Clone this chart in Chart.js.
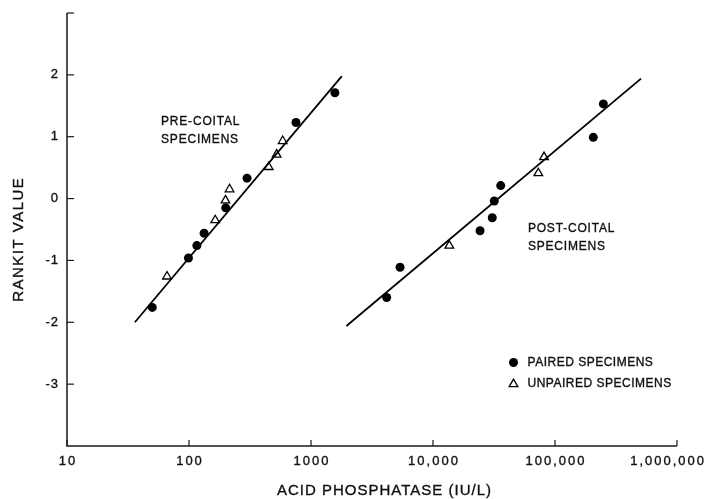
<!DOCTYPE html>
<html>
<head>
<meta charset="utf-8">
<script src="https://cdn.jsdelivr.net/npm/chart.js@4/dist/chart.umd.min.js"></script>
<style>
  html, body { margin: 0; padding: 0; background: #fff; }
  #wrap { position: relative; width: 708px; height: 499px; }
</style>
</head>
<body>
<div id="wrap"><canvas id="chart"></canvas></div>
<script>
// tick values and labels
const xTicks = [10, 100, 1000, 10000, 100000, 1000000];
const xTickLabels = ["10", "100", "1000", "10,000", "100,000", "1,000,000"];
const yTicks = [3, 2, 1, 0, -1, -2, -3];
const yTickLabels = ["", "2", "1", "0", "-1", "-2", "-3"];

// pre-coital specimens
const prePairedX = [50, 99, 116, 133, 200, 299, 753, 1570];
const prePairedY = [-1.76, -0.96, -0.76, -0.56, -0.15, 0.33, 1.23, 1.71];
const preUnpairedX = [66, 164, 199, 215, 450, 523, 586];
const preUnpairedY = [-1.26, -0.35, -0.03, 0.15, 0.51, 0.71, 0.93];

// post-coital specimens
const postPairedX = [4170, 5370, 24300, 30600, 31800, 35900, 206000, 249000];
const postPairedY = [-1.60, -1.11, -0.52, -0.31, -0.04, 0.21, 0.99, 1.53];
const postUnpairedX = [13600, 73000, 81300];
const postUnpairedY = [-0.76, 0.41, 0.67];

// fitted lines (end points)
const preFitX = [36, 1790];
const preFitY = [-2.0, 1.98];
const postFitX = [1950, 507000];
const postFitY = [-2.06, 1.94];

const zip = (xs, ys) => xs.map((x, i) => ({ x: x, y: ys[i] }));

const FONT = '"Liberation Sans", Arial, sans-serif';
const INK = "#111";

function txt(ctx, s, x, y, size, align, spacing) {
  ctx.save();
  ctx.font = size + "px " + FONT;
  ctx.fillStyle = INK;
  ctx.strokeStyle = INK;
  ctx.lineWidth = 0.35;
  ctx.textBaseline = "middle";
  ctx.letterSpacing = spacing + "px";
  ctx.textAlign = "left";
  const w = ctx.measureText(s).width - spacing;
  let x0 = x;
  if (align === "center") x0 = x - w / 2;
  if (align === "right") x0 = x - w;
  // keep labels inside the canvas
  const maxX = ctx.canvas.width - 4;
  if (x0 + w > maxX) x0 = maxX - w;
  ctx.fillText(s, x0, y);
  ctx.strokeText(s, x0, y);
  ctx.restore();
}

const axesPlugin = {
  id: "axesPlugin",
  afterDraw(chart) {
    const ctx = chart.ctx;
    const xs = chart.scales.x, ys = chart.scales.y;
    const a = chart.chartArea;
    ctx.save();
    ctx.strokeStyle = "#1a1a1a";
    ctx.lineWidth = 1.5;
    ctx.beginPath();
    ctx.moveTo(a.left, a.top);
    ctx.lineTo(a.left, a.bottom);
    ctx.lineTo(a.right, a.bottom);
    ctx.stroke();

    // inward ticks
    ctx.lineWidth = 1.2;
    yTicks.forEach((v, i) => {
      const py = ys.getPixelForValue(v);
      ctx.beginPath();
      ctx.moveTo(a.left, py);
      ctx.lineTo(a.left + 7, py);
      ctx.stroke();
      txt(ctx, yTickLabels[i], a.left - 9, py, 13, "right", 1);
    });
    xTicks.forEach((v, i) => {
      const px = xs.getPixelForValue(v);
      ctx.beginPath();
      ctx.moveTo(px, a.bottom);
      ctx.lineTo(px, a.bottom - 6);
      ctx.stroke();
      txt(ctx, xTickLabels[i], px, a.bottom + 15, 13, "center", 2);
    });
    ctx.restore();

    // axis titles
    txt(ctx, "ACID PHOSPHATASE (IU/L)", (a.left + a.right) / 2 + 12, 491, 15, "center", 1);
    ctx.save();
    ctx.translate(19, 240);
    ctx.rotate(-Math.PI / 2);
    txt(ctx, "RANKIT VALUE", 0, 0, 15, "center", 1.5);
    ctx.restore();

    // group labels, anchored in data space
    const preX = xs.getPixelForValue(59), postX = xs.getPixelForValue(60000);
    txt(ctx, "PRE-COITAL", preX, ys.getPixelForValue(1.25), 12, "left", 0.8);
    txt(ctx, "SPECIMENS", preX, ys.getPixelForValue(0.96), 12, "left", 0.8);
    txt(ctx, "POST-COITAL", postX, ys.getPixelForValue(-0.49), 12, "left", 0.8);
    txt(ctx, "SPECIMENS", postX, ys.getPixelForValue(-0.78), 12, "left", 0.8);

    // legend
    const lx = a.left + (a.right - a.left) * 0.732;
    const ly1 = ys.getPixelForValue(-2.65), ly2 = ys.getPixelForValue(-3.0);
    ctx.save();
    ctx.fillStyle = "#000";
    ctx.strokeStyle = "#000";
    ctx.lineWidth = 1.3;
    Chart.helpers.drawPoint(ctx, { pointStyle: "circle", radius: 4.5, borderWidth: 0 }, lx, ly1);
    ctx.fillStyle = "#fff";
    Chart.helpers.drawPoint(ctx, { pointStyle: "triangle", radius: 5, borderWidth: 1.3 }, lx, ly2);
    ctx.restore();
    txt(ctx, "PAIRED SPECIMENS", lx + 14, ly1, 12, "left", 0.5);
    txt(ctx, "UNPAIRED SPECIMENS", lx + 14, ly2, 12, "left", 0.5);
  }
};

const circle = { pointStyle: "circle", pointRadius: 4.5, backgroundColor: "#000", borderColor: "#000", borderWidth: 0, showLine: false };
const tri = { pointStyle: "triangle", pointRadius: 5, backgroundColor: "#fff", borderColor: "#000", borderWidth: 1.3, showLine: false };
const fit = { showLine: true, pointRadius: 0, borderColor: "#000", borderWidth: 1.8, fill: false };

new Chart(document.getElementById("chart").getContext("2d"), {
  type: "scatter",
  data: {
    datasets: [
      { label: "pre fit", data: zip(preFitX, preFitY), ...fit },
      { label: "post fit", data: zip(postFitX, postFitY), ...fit },
      { label: "pre unpaired", data: zip(preUnpairedX, preUnpairedY), ...tri },
      { label: "post unpaired", data: zip(postUnpairedX, postUnpairedY), ...tri },
      { label: "pre paired", data: zip(prePairedX, prePairedY), ...circle },
      { label: "post paired", data: zip(postPairedX, postPairedY), ...circle }
    ]
  },
  options: {
    responsive: true,
    maintainAspectRatio: false,
    animation: false,
    layout: { padding: { left: 67, top: 13, right: 31, bottom: 53 } },
    plugins: { legend: { display: false }, tooltip: { enabled: false } },
    scales: {
      x: { type: "logarithmic", min: 10, max: 1000000, display: false },
      y: { type: "linear", min: -4, max: 3, display: false }
    }
  },
  plugins: [axesPlugin]
});
</script>
</body>
</html>
